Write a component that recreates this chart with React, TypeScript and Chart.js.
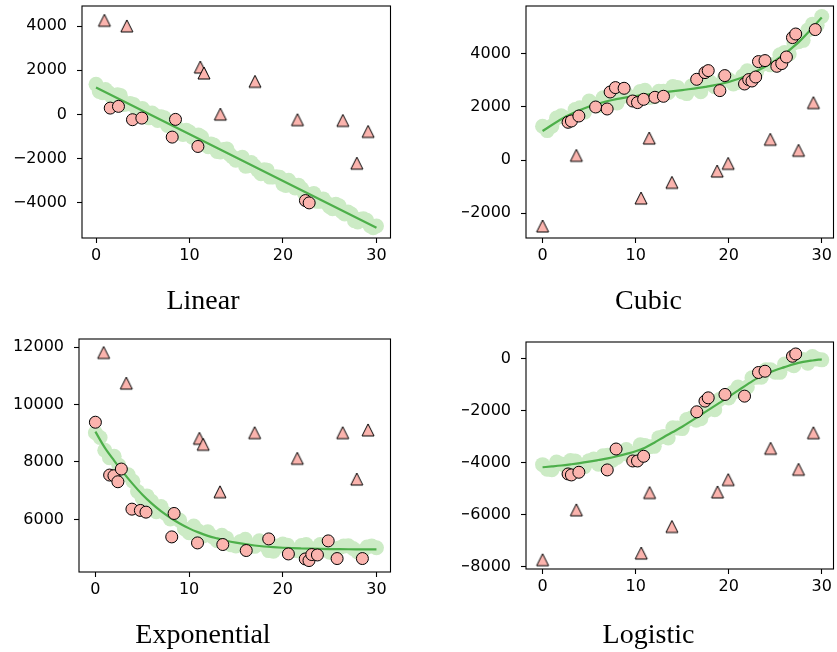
import { useEffect, useRef } from 'react';
import { Chart, registerables } from 'chart.js';
Chart.register(...registerables);

// ---------- data ----------
const xTickValues = [0, 10, 20, 30];
const bandX31 = [0, 1, 2, 3, 4, 5, 6, 7, 8, 9, 10, 11, 12, 13, 14, 15, 16, 17, 18, 19, 20, 21, 22, 23, 24, 25, 26, 27, 28, 29, 30];
const bandXHalf = [0.5, 1.5, 2.5, 3.5, 4.5, 5.5, 6.5, 7.5, 8.5, 9.5, 10.5, 11.5, 12.5, 13.5, 14.5, 15.5, 16.5, 17.5, 18.5, 19.5, 20.5, 21.5, 22.5, 23.5, 24.5, 25.5, 26.5, 27.5, 28.5, 29.5];

// Linear
const linTriX = [0.9, 3.3, 11.15, 11.55, 13.3, 17.0, 21.55, 26.4, 27.9, 29.1];
const linTriY = [4270, 4015, 2150, 1880, 14, 1500, -240, -273, -2212, -773];
const linDotX = [1.52, 2.4, 3.9, 4.9, 8.15, 8.5, 10.9, 22.4, 22.8];
const linDotY = [286, 364, -241, -168, -1030, -227, -1455, -3910, -4015];
const linLineX = [0, 30];
const linLineY = [1216, -5140];
const linBandX = [0, 0.7, 1.3, 2.0, 2.6, 3.3, 4.0, 4.6, 5.3, 6.0, 6.6, 7.3, 8.0, 8.6, 9.3, 10.0, 10.6, 11.3, 12.0, 12.6, 13.3, 14.0, 14.6, 15.3, 16.0, 16.6, 17.3, 18.0, 18.6, 19.3, 20.0, 20.6, 21.3, 22.0, 22.6, 23.3, 24.0, 24.6, 25.3, 26.0, 26.6, 27.3, 28.0, 28.6, 29.3, 30.0];
const linBandY = [1363, 985, 997, 669, 861, 473, 454, 77, 118, 60, -278, -156, -545, -572, -910, -799, -1056, -1025, -1463, -1391, -1709, -1568, -1935, -2014, -2352, -2180, -2528, -2507, -2844, -2832, -3171, -2988, -3337, -3375, -3763, -3591, -3940, -3997, -4276, -4144, -4522, -4520, -4879, -4736, -5045, -5063];
const linBandX2 = [0.35, 1.0, 1.65, 2.3, 2.95, 3.65, 4.3, 4.95, 5.65, 6.3, 6.95, 7.65, 8.3, 8.95, 9.65, 10.3, 10.95, 11.65, 12.3, 12.95, 13.65, 14.3, 14.95, 15.65, 16.3, 16.95, 17.65, 18.3, 18.95, 19.65, 20.3, 20.95, 21.65, 22.3, 22.95, 23.65, 24.3, 24.95, 25.65, 26.3, 26.95, 27.65, 28.3, 28.95, 29.65];
const linBandY2 = [1039, 1131, 813, 895, 447, 498, 280, 273, -156, -44, -112, -500, -518, -816, -715, -1033, -931, -1369, -1347, -1685, -1594, -1812, -2079, -1948, -2326, -2344, -2692, -2530, -2838, -2857, -3225, -3173, -3211, -3589, -3637, -3946, -3834, -4181, -4080, -4418, -4426, -4824, -4762, -4800, -5139];
const linYTicks = [-4000, -2000, 0, 2000, 4000];

// Cubic
const cubTriX = [0, 3.63, 10.58, 11.46, 13.9, 18.76, 19.94, 24.47, 27.5, 29.1];
const cubTriY = [-2490, 177, -1434, 830, -842, -415, -125, 781, 366, 2166];
const cubDotX = [2.74, 3.1, 3.9, 5.7, 6.94, 7.26, 7.83, 8.76, 9.68, 10.2, 10.86, 12.07, 12.99, 16.56, 17.45, 17.8, 19.05, 19.58, 21.7, 22.15, 22.5, 22.9, 23.2, 23.9, 25.17, 25.7, 26.2, 26.85, 27.2, 29.3];
const cubDotY = [1423, 1472, 1660, 2000, 1925, 2566, 2732, 2706, 2226, 2166, 2290, 2366, 2404, 3045, 3298, 3373, 2618, 3185, 2868, 3034, 2981, 3132, 3713, 3751, 3536, 3638, 3887, 4619, 4755, 4921];
const cubLineX = [0, 2.5, 5, 7.5, 10, 12.5, 15, 17.5, 20, 22.5, 25, 27.5, 30];
const cubLineY = [1094, 1645, 2022, 2265, 2415, 2530, 2640, 2760, 2943, 3265, 3751, 4440, 5374];
const cubBandY = [1274, 1279, 1671, 1594, 1970, 2222, 2043, 2265, 2150, 2493, 2385, 2629, 2388, 2594, 2770, 2570, 2790, 2580, 2940, 2830, 3033, 2930, 3365, 3329, 3645, 3601, 4060, 4413, 4515, 5127, 5413];
const cubBandY2 = [1110, 1587, 1585, 1904, 1808, 2109, 2350, 2165, 2393, 2350, 2588, 2359, 2596, 2536, 2740, 2505, 2765, 2880, 2765, 3085, 2870, 3165, 3180, 3600, 3590, 3972, 4000, 4460, 4902, 5085];
const cubYTicks = [-2000, 0, 2000, 4000];

// Exponential
const expTriX = [0.88, 3.3, 11.1, 11.5, 13.3, 17.0, 21.55, 26.4, 27.9, 29.1];
const expTriY = [11811, 10744, 8825, 8616, 6963, 9021, 8128, 9021, 7406, 9115];
const expDotX = [0, 1.52, 1.98, 2.4, 2.77, 3.9, 4.8, 5.4, 8.15, 8.4, 10.9, 13.6, 16.1, 18.5, 20.6, 22.4, 22.8, 23.1, 23.7, 24.85, 25.8, 28.5];
const expDotY = [9383, 7545, 7521, 7312, 7754, 6359, 6314, 6255, 5393, 6209, 5184, 5128, 4919, 5323, 4800, 4626, 4570, 4779, 4765, 5254, 4640, 4640];
const expLineY = [9055, 8500, 8050, 7620, 7230, 6870, 6560, 6290, 6060, 5860, 5690, 5550, 5430, 5340, 5260, 5195, 5140, 5095, 5060, 5035, 5015, 5000, 4990, 4982, 4975, 4970, 4966, 4963, 4961, 4960, 4958];
const expBandY = [9015, 8410, 8200, 7560, 7330, 6740, 6630, 6450, 6020, 5970, 5540, 5600, 5570, 5260, 5350, 5075, 5310, 5065, 5120, 4895, 5145, 4930, 5090, 4932, 5125, 4860, 5006, 5083, 4871, 5040, 5018];
const expBandY2 = [8850, 8145, 7885, 7555, 6975, 6820, 6270, 6210, 6085, 5680, 5775, 5427, 5402, 5448, 5116, 5236, 5076, 5256, 4916, 5074, 5107, 4915, 5126, 4958, 5032, 4818, 5074, 4992, 4890, 5079];
const expYTicks = [6000, 8000, 10000, 12000];

// Logistic
const logTriX = [0, 3.63, 10.6, 11.5, 13.9, 18.8, 19.95, 24.5, 27.5, 29.1];
const logTriY = [-7720, -5807, -7465, -5143, -6445, -5118, -4646, -3445, -4250, -2847];
const logDotX = [2.74, 3.1, 3.9, 6.95, 7.9, 9.69, 10.2, 10.86, 16.57, 17.45, 17.8, 19.6, 21.7, 23.2, 23.9, 26.85, 27.2];
const logDotY = [-4429, -4467, -4364, -4275, -3472, -3931, -3931, -3751, -2044, -1634, -1508, -1378, -1443, -536, -486, 88, 176];
const logLineY = [-4172, -4140, -4105, -4062, -4015, -3958, -3895, -3830, -3750, -3660, -3560, -3420, -3230, -3020, -2820, -2618, -2390, -2160, -1930, -1700, -1470, -1230, -990, -770, -600, -448, -330, -215, -130, -75, -30];
const logBandY = [-4072, -4270, -4045, -3912, -4105, -3918, -4055, -3710, -3800, -3490, -3670, -3340, -3370, -2990, -2660, -2688, -2280, -2310, -1870, -1570, -1510, -1090, -1090, -720, -430, -528, -210, -275, -40, 75, -50];
const logBandY2 = [-4246, -3972, -4124, -3929, -4147, -3857, -3733, -3900, -3665, -3750, -3310, -3385, -3035, -3050, -2670, -2344, -2365, -2025, -1965, -1465, -1290, -1220, -740, -715, -434, -529, -212, -22, -182, -22];
const logYTicks = [-8000, -6000, -4000, -2000, 0];

// ---------- styles ----------
const DOT_FILL = '#fbb4ae';
const BAND = '#ccebc5';
const LINE = '#4daf4a';

type Panel = {
  title: string;
  CL: number; CT: number; CR: number; CB: number;
  titleX: number; titleMid: number;
  xMin: number; xMax: number; yMin: number; yMax: number;
  yTicks: number[];
  bandX: number[]; bandY: number[];
  lineX: number[]; lineY: number[];
  dotX: number[]; dotY: number[];
  triX: number[]; triY: number[];
};

const panels: Panel[] = [
  { title: 'Linear', CL: 82, CT: 6, CR: 392, CB: 238, titleX: 203, titleMid: 302,
    xMin: -1.5, xMax: 31.5, yMin: -5608, yMax: 4918, yTicks: linYTicks,
    bandX: [...linBandX, ...linBandX2], bandY: [...linBandY, ...linBandY2], lineX: linLineX, lineY: linLineY,
    dotX: linDotX, dotY: linDotY, triX: linTriX, triY: linTriY },
  { title: 'Cubic', CL: 526, CT: 6, CR: 835, CB: 238, titleX: 648.5, titleMid: 302,
    xMin: -1.78, xMax: 31.26, yMin: -2943, yMax: 5811, yTicks: cubYTicks,
    bandX: [...bandX31, ...bandXHalf], bandY: [...cubBandY, ...cubBandY2], lineX: cubLineX, lineY: cubLineY,
    dotX: cubDotX, dotY: cubDotY, triX: cubTriX, triY: cubTriY },
  { title: 'Exponential', CL: 79, CT: 339, CR: 392, CB: 572, titleX: 203, titleMid: 636,
    xMin: -1.75, xMax: 31.5, yMin: 4172, yMax: 12279, yTicks: expYTicks,
    bandX: [...bandX31, ...bandXHalf], bandY: [...expBandY, ...expBandY2], lineX: bandX31, lineY: expLineY,
    dotX: expDotX, dotY: expDotY, triX: expTriX, triY: expTriY },
  { title: 'Logistic', CL: 526, CT: 342, CR: 835, CB: 569, titleX: 648.5, titleMid: 636,
    xMin: -1.78, xMax: 31.26, yMin: -8077, yMax: 635, yTicks: logYTicks,
    bandX: [...bandX31, ...bandXHalf], bandY: [...logBandY, ...logBandY2], lineX: bandX31, lineY: logLineY,
    dotX: logDotX, dotY: logDotY, triX: logTriX, triY: logTriY },
];

const pts = (xs: number[], ys: number[]) => xs.map((x, i) => ({ x, y: ys[i] }));
const fmt = (v: any) => {
  const n = Number(v);
  return n < 0 ? '\u2212' + Math.abs(n) : String(n);
};

function makeTriangle(): HTMLCanvasElement {
  const c = document.createElement('canvas');
  c.width = 16; c.height = 16;
  const g = c.getContext('2d')!;
  g.beginPath();
  g.moveTo(8, 2); g.lineTo(14, 14); g.lineTo(2, 14); g.closePath();
  g.fillStyle = DOT_FILL; g.fill();
  g.lineWidth = 1; g.strokeStyle = '#000'; g.stroke();
  return c;
}

const framePlugin = {
  id: 'frame',
  afterDatasetsDraw(chart: any) {
    const { ctx, chartArea: a } = chart;
    ctx.save();
    ctx.strokeStyle = '#000';
    ctx.lineWidth = 1.1;
    ctx.strokeRect(a.left, a.top, a.right - a.left, a.bottom - a.top);
    ctx.restore();
  },
};

const PAD_T = 20, PAD_R = 6, TITLE_SIZE = 28, TITLE_LH = TITLE_SIZE * 1.2;
const TICK_FONT = { family: 'DejaVu Sans', size: 16 };

function geo(p: Panel) {
  const YW = p.CL + p.CR - 2 * p.titleX;
  const XH = p.titleMid - p.CB - TITLE_LH / 2;
  const W = YW + (p.CR - p.CL) + PAD_R;
  const Hx = PAD_T + (p.CB - p.CT) + XH + TITLE_LH;
  const H = Math.ceil(Hx);
  return { YW, XH, W: Math.round(W), H, padB: H - Hx, left: p.CL - YW, top: p.CT - PAD_T };
}

function PanelChart({ p }: { p: Panel }) {
  const ref = useRef<HTMLCanvasElement>(null);
  const g = geo(p);
  useEffect(() => {
    const tri = makeTriangle();
    const chart = new Chart(ref.current!, {
      type: 'scatter',
      data: {
        datasets: [
          { type: 'scatter', data: pts(p.triX, p.triY), pointStyle: tri as any, pointRadius: 6, order: 0 } as any,
          { type: 'scatter', data: pts(p.dotX, p.dotY), pointStyle: 'circle', pointRadius: 6,
            backgroundColor: DOT_FILL, borderColor: '#000', borderWidth: 1, order: 1 },
          { type: 'line', data: pts(p.lineX, p.lineY), borderColor: LINE, borderWidth: 2.2,
            pointRadius: 0, fill: false, cubicInterpolationMode: 'monotone', order: 2 } as any,
          { type: 'scatter', data: pts(p.bandX, p.bandY), pointStyle: 'circle', pointRadius: 7.5,
            backgroundColor: BAND, borderWidth: 0, order: 3 },
        ],
      },
      options: {
        responsive: false,
        animation: false,
        events: [],
        layout: { padding: { left: 0, top: PAD_T, right: PAD_R, bottom: g.padB } },
        plugins: {
          legend: { display: false },
          tooltip: { enabled: false },
          title: {
            display: true, position: 'bottom', text: p.title, color: '#000', padding: 0,
            font: { family: 'Liberation Serif', size: TITLE_SIZE, weight: 'normal', lineHeight: 1.2 },
          },
        },
        scales: {
          x: {
            type: 'linear', min: p.xMin, max: p.xMax,
            afterBuildTicks: (s: any) => { s.ticks = xTickValues.map((v) => ({ value: v })); },
            afterFit: (s: any) => { s.height = g.XH; },
            grid: { display: true, drawOnChartArea: false, drawTicks: true, tickLength: 5, tickWidth: 1.1, tickColor: '#000' },
            border: { display: false },
            ticks: { color: '#000', font: TICK_FONT, padding: 3, maxRotation: 0, autoSkip: false, callback: fmt },
          },
          y: {
            type: 'linear', min: p.yMin, max: p.yMax,
            afterBuildTicks: (s: any) => { s.ticks = p.yTicks.map((v) => ({ value: v })); },
            afterFit: (s: any) => { s.width = g.YW; },
            grid: { display: true, drawOnChartArea: false, drawTicks: true, tickLength: 5, tickWidth: 1.1, tickColor: '#000' },
            border: { display: false },
            ticks: { color: '#000', font: TICK_FONT, padding: 10, autoSkip: false, callback: fmt },
          },
        },
      } as any,
      plugins: [framePlugin],
    });
    return () => chart.destroy();
  }, []);
  return (
    <canvas
      ref={ref}
      width={g.W}
      height={g.H}
      style={{ position: 'absolute', left: g.left, top: g.top, width: g.W, height: g.H }}
    />
  );
}

export default function App() {
  return (
    <div style={{ position: 'absolute', left: 0, top: 0, width: 837, height: 652, overflow: 'hidden', background: '#fff' }}>
      {panels.map((p) => <PanelChart key={p.title} p={p} />)}
    </div>
  );
}
